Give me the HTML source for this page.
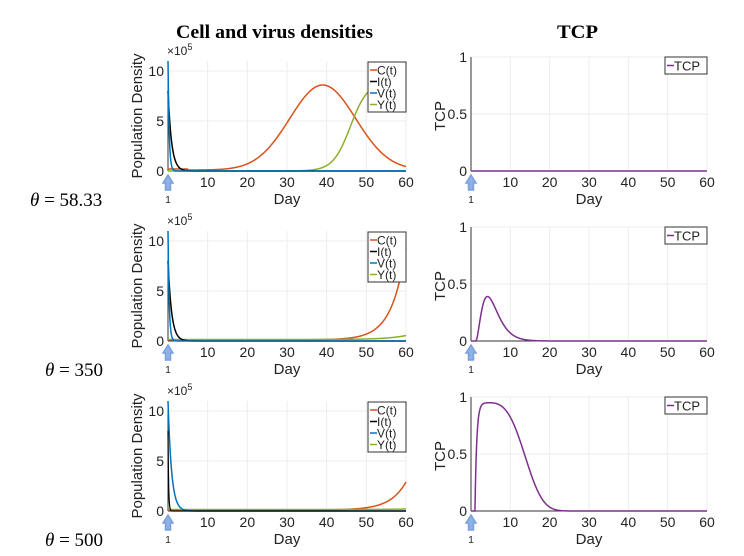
<!DOCTYPE html>
<html><head><meta charset="utf-8"><style>
body{margin:0;background:#fff;width:744px;height:556px;overflow:hidden}
svg{display:block;font-family:"Liberation Sans",sans-serif}
</style></head><body>
<svg id="s" width="744" height="556" viewBox="0 0 744 556" xmlns="http://www.w3.org/2000/svg">
<text x="176" y="38" font-family="Liberation Serif" font-weight="bold" font-size="19" textLength="197" lengthAdjust="spacingAndGlyphs">Cell and virus densities</text>
<text x="557" y="38" font-family="Liberation Serif" font-weight="bold" font-size="19" textLength="41" lengthAdjust="spacingAndGlyphs">TCP</text>
<g font-family="Liberation Serif" font-size="19">
<text x="30" y="206"><tspan font-style="italic">θ</tspan> = 58.33</text>
<text x="45" y="376"><tspan font-style="italic">θ</tspan> = 350</text>
<text x="45" y="546"><tspan font-style="italic">θ</tspan> = 500</text>
</g>
</svg>
<script>
const s=document.getElementById('s');let h='';
const L0=168,L1=406,R0=471,R1=707;
function g(m,sd,x){return Math.exp(-((x-m)*(x-m))/(2*sd*sd));}
function path(x0,x1,y0,ys,ymax,f,col,w){let d='';for(let i=0;i<=600;i++){let t=i/10;let v=f(t);v=Math.max(0,Math.min(ymax,v));let X=x0+(x1-x0)*t/60,Y=y0-v*ys;d+=(i?'L':'M')+X.toFixed(2)+' '+Y.toFixed(2);}h+=`<path d="${d}" fill="none" stroke="${col}" stroke-width="${w||1.5}"/>`;}
function axes(x0,x1,y0,top,yt){
 for(let k=1;k<=6;k++){let X=x0+(x1-x0)*k/6;h+=`<line x1="${X}" y1="${top}" x2="${X}" y2="${y0}" stroke="#ececec"/>`;h+=`<text x="${X}" y="${y0+16}" font-size="14" text-anchor="middle" fill="#222">${k*10}</text>`;}
 yt.forEach(([v,Y,lab])=>{if(v>0)h+=`<line x1="${x0}" y1="${Y}" x2="${x1}" y2="${Y}" stroke="#ececec"/>`;h+=`<text x="${x0-4}" y="${Y+5}" font-size="14" text-anchor="end" fill="#222">${lab}</text>`;});
 h+=`<line x1="${x0}" y1="${top}" x2="${x0}" y2="${y0}" stroke="#333"/><line x1="${x0}" y1="${y0}" x2="${x1}" y2="${y0}" stroke="#333"/>`;
 h+=`<text x="${(x0+x1)/2}" y="${y0+33}" font-size="15" text-anchor="middle" fill="#222">Day</text>`;
 h+=`<polygon points="${x0-5},${y0+12} ${x0},${y0+4} ${x0+5},${y0+12} ${x0+2.5},${y0+12} ${x0+2.5},${y0+19} ${x0-2.5},${y0+19} ${x0-2.5},${y0+12}" fill="#8fb1e6" stroke="#7aa0dc" stroke-width="1.5"/>`;
 h+=`<text x="${x0}" y="${y0+32}" font-size="10" text-anchor="middle" fill="#222">1</text>`;
}
const rows=[171,341,511];
const C=['#d95319','#000','#0072bd','#8fae2a'];
rows.forEach((y0,r)=>{
 let top=y0-110;
 axes(L0,L1,y0,top,[[0,y0,'0'],[5,y0-50,'5'],[10,y0-100,'10']]);
 h+=`<text x="${L0-1}" y="${y0-116}" font-size="12" fill="#222">×10<tspan font-size="9" dy="-5">5</tspan></text>`;
 h+=`<text transform="translate(${L0-26},${y0-55}) rotate(-90)" font-size="15" text-anchor="middle" fill="#222">Population Density</text>`;
 let tt=y0-114;
 axes(R0,R1,y0,tt,[[0,y0,'0'],[0.5,y0-57,'0.5'],[1,y0-114,'1']]);
 h+=`<text transform="translate(${R0-26},${y0-55}) rotate(-90)" font-size="15" text-anchor="middle" fill="#222">TCP</text>`;
 const Ys=10,f=[];
 if(r==0){
  f[0]=t=>8.5*g(39,8.3,t)+(t<5?0.2:0.1);
  f[3]=t=>t<53?8.95/(1+Math.exp(-(t-46)/2.2)):8.92-0.02*(t-53);
 } else if(r==1){
  f[0]=t=>9.2*Math.exp((t-60)/3.6)+0.12;
  f[3]=t=>0.4*Math.exp((t-60)/5)+0.15;
 } else {
  f[0]=t=>2.8*Math.exp((t-60)/4)+0.1;
  f[3]=t=>0.15+0.05*Math.exp((t-60)/6);
 }
 path(L0,L1,y0,Ys,11,f[0],C[0]);
 path(L0,L1,y0,Ys,11,f[3],C[3]);
 if(r==2){path(L0,L1,y0,Ys,11,t=>11*Math.exp(-t/0.9),C[2]);path(L0,L1,y0,Ys,11,t=>8*Math.exp(-t/0.15),C[1],1.2);}
 else{path(L0,L1,y0,Ys,11,t=>8*Math.exp(-t/0.9),C[1]);path(L0,L1,y0,Ys,11,t=>11*Math.exp(-t/0.3),C[2]);}
 let lx=368,ly=top+1;
 h+=`<rect x="${lx}" y="${ly}" width="38" height="50" fill="#fff" stroke="#333"/>`;
 ['C(t)','I(t)','V(t)','Y(t)'].forEach((n,i)=>{let yy=ly+8+i*11.5;h+=`<line x1="${lx+2}" y1="${yy}" x2="${lx+9}" y2="${yy}" stroke="${C[i]}" stroke-width="1.5"/><text x="${lx+9}" y="${yy+4.5}" font-size="12" fill="#222">${n}</text>`;});
 let tf;
 if(r==0) tf=t=>0;
 else if(r==1) tf=t=>t<1.2?0:0.39*Math.pow((t-1.2)/3,2)*Math.exp(2*(1-(t-1.2)/3));
 else tf=t=>{if(t<1)return 0;if(t<4)return 0.95*(1-Math.exp(-(t-1)*2.2));return 0.95*Math.exp(-Math.pow((t-4)/11,3.2));};
 path(R0,R1,y0,114,1.05,tf,'#7e2f8e');
 h+=`<rect x="665" y="${tt}" width="42" height="17" fill="#fff" stroke="#333"/><line x1="667" y1="${tt+8.5}" x2="674" y2="${tt+8.5}" stroke="#7e2f8e" stroke-width="1.5"/><text x="674" y="${tt+13.5}" font-size="13" fill="#222">TCP</text>`;
});
s.insertAdjacentHTML('beforeend',h);
</script>
</body></html>
